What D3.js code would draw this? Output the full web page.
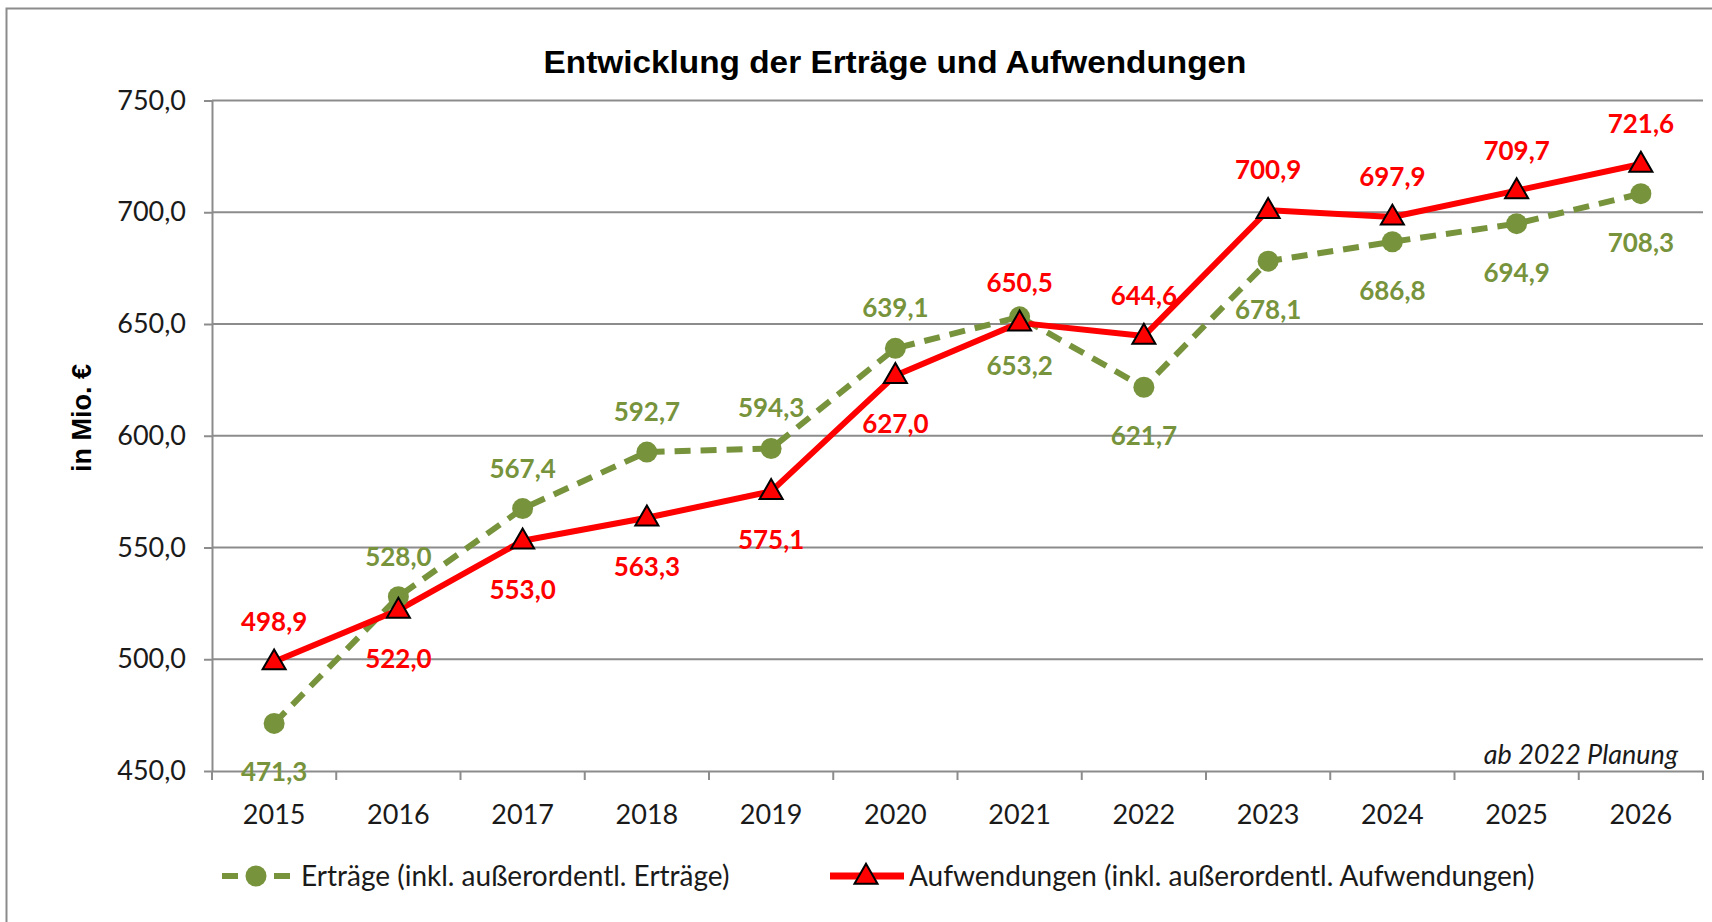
<!DOCTYPE html>
<html lang="de">
<head>
<meta charset="UTF-8">
<title>Entwicklung der Erträge und Aufwendungen</title>
<script src="https://d3js.org/d3.v7.min.js"></script>
<style>
  body { margin: 0; background: #fff; }
  text { font-family: Lato, "Open Sans", sans-serif; }
</style>
</head>
<body>
<div id="chart"></div>
<script>
// data
var years = ["2015","2016","2017","2018","2019","2020","2021","2022","2023","2024","2025","2026"];
var ertraege = [471.3, 528.0, 567.4, 592.7, 594.3, 639.1, 653.2, 621.7, 678.1, 686.8, 694.9, 708.3];
var aufwendungen = [498.9, 522.0, 553.0, 563.3, 575.1, 627.0, 650.5, 644.6, 700.9, 697.9, 709.7, 721.6];
// where each label sits: 1 = above the point, -1 = below
var ertraegePos = [-1, 1, 1, 1, 1, 1, -1, -1, -1, -1, -1, -1];
var aufwPos = [1, -1, -1, -1, -1, -1, 1, 1, 1, 1, 1, 1];
var yTicks = [450, 500, 550, 600, 650, 700, 750];

var W = 1712, H = 922;
var margin = {top: 100.5, right: 9, bottom: 151, left: 212};
var green = "#77933c", red = "#ff0000";

var svg = d3.select("#chart").append("svg")
  .attr("width", W)
  .attr("height", H);

// outer frame
svg.append("rect")
  .attr("x", 6.5).attr("y", 8.5)
  .attr("width", W).attr("height", H)
  .attr("fill", "none")
  .attr("stroke", "#8c8c8c")
  .attr("stroke-width", 2);

var x = d3.scaleBand()
  .domain(years)
  .range([margin.left, W - margin.right]);

var y = d3.scaleLinear()
  .domain([450, 750])
  .range([H - margin.bottom, margin.top]);

var fmt = d => d3.format(".1f")(d).replace(".", ",");

// gridlines
svg.append("g")
  .selectAll("line")
  .data(yTicks.slice(1))
  .join("line")
  .attr("x1", margin.left).attr("x2", W - margin.right)
  .attr("y1", d => y(d)).attr("y2", d => y(d))
  .attr("stroke", "#8c8c8c")
  .attr("stroke-width", 2);

var yAxis = svg.append("g")
  .attr("transform", "translate(" + margin.left + ",0)")
  .call(d3.axisLeft(y).tickValues(yTicks).tickFormat(fmt).tickSize(8).tickPadding(18).tickSizeOuter(0));

var xAxis = svg.append("g")
  .attr("transform", "translate(0," + y(450) + ")")
  .call(d3.axisBottom(x).tickSize(0).tickPadding(34).tickSizeOuter(0));

[yAxis, xAxis].forEach(g => {
  g.select(".domain").attr("stroke", "#8c8c8c").attr("stroke-width", 2);
  g.selectAll(".tick line").attr("stroke", "#8c8c8c").attr("stroke-width", 2);
  g.selectAll(".tick text").attr("font-size", 27).attr("fill", "#1a1a1a");
});

// x ticks between the categories
svg.append("g")
  .selectAll("line")
  .data(years.concat(["end"]))
  .join("line")
  .attr("x1", (d, i) => margin.left + i * x.step())
  .attr("x2", (d, i) => margin.left + i * x.step())
  .attr("y1", y(450)).attr("y2", y(450) + 9)
  .attr("stroke", "#8c8c8c")
  .attr("stroke-width", 2);

// title
svg.append("text")
  .attr("x", 895).attr("y", 73)
  .attr("text-anchor", "middle")
  .style("font-family", "'Liberation Sans', Arial, sans-serif")
  .attr("font-weight", "bold")
  .attr("font-size", 32)
  .attr("textLength", 703)
  .attr("lengthAdjust", "spacingAndGlyphs")
  .text("Entwicklung der Erträge und Aufwendungen");

// y axis title
svg.append("text")
  .attr("transform", "translate(91," + 418 + ") rotate(-90)")
  .attr("text-anchor", "middle")
  .style("font-family", "'Liberation Sans', Arial, sans-serif")
  .attr("font-weight", "bold")
  .attr("font-size", 27)
  .text("in Mio. €");

// note
svg.append("text")
  .attr("x", 1678).attr("y", 764)
  .attr("text-anchor", "end")
  .attr("font-style", "italic")
  .attr("font-size", 27)
  .attr("fill", "#1a1a1a")
  .text("ab 2022 Planung");

var cx = d => x(d) + x.bandwidth() / 2;

var line = d3.line()
  .x(d => cx(d.year))
  .y(d => y(d.v));

var ertrData = years.map((d, i) => ({year: d, v: ertraege[i], pos: ertraegePos[i]}));
var aufwData = years.map((d, i) => ({year: d, v: aufwendungen[i], pos: aufwPos[i]}));

svg.append("path")
  .datum(ertrData)
  .attr("fill", "none")
  .attr("stroke", green)
  .attr("stroke-width", 6)
  .attr("stroke-dasharray", "16,10")
  .attr("d", line);

svg.append("path")
  .datum(aufwData)
  .attr("fill", "none")
  .attr("stroke", red)
  .attr("stroke-width", 6)
  .attr("stroke-linejoin", "round")
  .attr("d", line);

var tri = d3.symbol().type(d3.symbolTriangle).size(230);

svg.append("g")
  .selectAll("circle")
  .data(ertrData)
  .join("circle")
  .attr("cx", d => cx(d.year))
  .attr("cy", d => y(d.v))
  .attr("r", 10.5)
  .attr("fill", green);

svg.append("g")
  .selectAll("path")
  .data(aufwData)
  .join("path")
  .attr("transform", d => "translate(" + cx(d.year) + "," + (y(d.v) + 1) + ")")
  .attr("d", tri)
  .attr("fill", red)
  .attr("stroke", "#000")
  .attr("stroke-width", 2);

function labels(data, color) {
  svg.append("g")
    .selectAll("text")
    .data(data)
    .join("text")
    .attr("x", d => cx(d.year))
    .attr("y", d => y(d.v) + (d.pos > 0 ? -31 : 58))
    .attr("text-anchor", "middle")
    .attr("font-weight", "bold")
    .attr("font-size", 26)
    .attr("fill", color)
    .text(d => fmt(d.v));
}
labels(ertrData, green);
labels(aufwData, red);

// legend
var lg = svg.append("g").attr("transform", "translate(0,876)");
lg.append("line")
  .attr("x1", 222).attr("x2", 293)
  .attr("stroke", green).attr("stroke-width", 6)
  .attr("stroke-dasharray", "16,10");
lg.append("circle").attr("cx", 256).attr("r", 10.5).attr("fill", green);
lg.append("text").attr("x", 301).attr("y", 10)
  .attr("font-size", 28).attr("fill", "#1a1a1a")
  .text("Erträge (inkl. außerordentl. Erträge)");

lg.append("line")
  .attr("x1", 830).attr("x2", 904)
  .attr("stroke", red).attr("stroke-width", 7);
lg.append("path")
  .attr("transform", "translate(866,1)")
  .attr("d", tri)
  .attr("fill", red).attr("stroke", "#000").attr("stroke-width", 2);
lg.append("text").attr("x", 909).attr("y", 10)
  .attr("font-size", 28).attr("fill", "#1a1a1a")
  .text("Aufwendungen (inkl. außerordentl. Aufwendungen)");
</script>
</body>
</html>
